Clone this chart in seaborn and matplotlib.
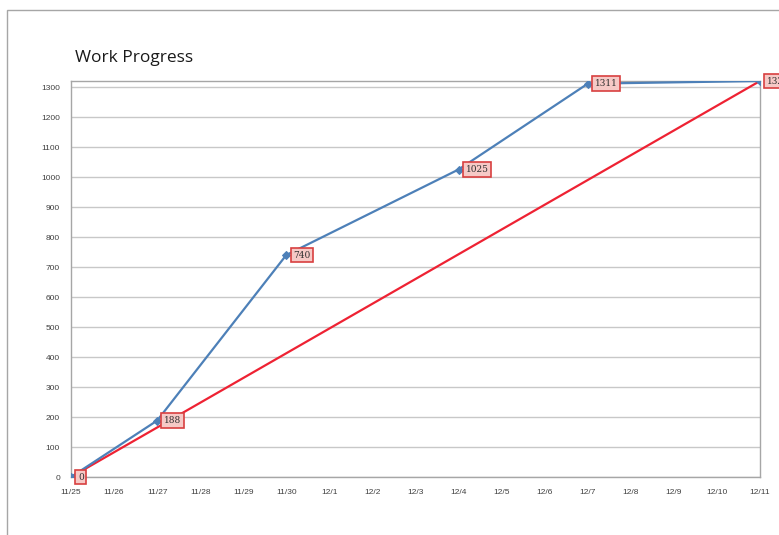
import matplotlib
matplotlib.use("Agg")
import matplotlib.pyplot as plt
import matplotlib.dates as mdates
from matplotlib.patches import Rectangle
import seaborn as sns
import pandas as pd

# ---- data ----
actual_dates = ["2010-11-25", "2010-11-27", "2010-11-30", "2010-12-04", "2010-12-07", "2010-12-11"]
actual_values = [0, 188, 740, 1025, 1311, 1320]
plan_dates = ["2010-11-25", "2010-12-11"]
plan_values = [0, 1320]
plan_labels = ["0", "1320"]
actual_labels = ["188", "740", "1025", "1311"]
actual_label_idx = [1, 2, 3, 4]
y_ticks = list(range(0, 1400, 100))
title = "Work Progress"

actual = pd.DataFrame({"date": pd.to_datetime(actual_dates), "value": actual_values})
plan = pd.DataFrame({"date": pd.to_datetime(plan_dates), "value": plan_values})

sns.set_theme(style="white")
plt.rcParams["font.family"] = ["Liberation Sans", "DejaVu Sans"]

fig = plt.figure(figsize=(7.79, 5.35), dpi=100)
fig.patch.set_facecolor("white")
# outer chart border
fig.patches.append(Rectangle((7 / 779, -0.05), 1.2, 1 - 10 / 535 + 0.05, transform=fig.transFigure,
                             fill=False, edgecolor="#a6a6a6", linewidth=1.0))

ax = fig.add_axes([71 / 779, 58 / 535, 689 / 779, 396 / 535])

blue = "#4d80b8"
red = "#ee2233"

sns.lineplot(data=plan, x="date", y="value", ax=ax, color=red, linewidth=1.6, zorder=3)
sns.lineplot(data=actual, x="date", y="value", ax=ax, color=blue, linewidth=1.6,
             marker="D", markersize=4, markeredgecolor=blue, zorder=4)

ax.set_ylim(0, 1320)
ax.set_xlim(pd.Timestamp(plan_dates[0]), pd.Timestamp(plan_dates[-1]))
ax.set_yticks(y_ticks)
ax.xaxis.set_major_locator(mdates.DayLocator())
ax.xaxis.set_major_formatter(mdates.DateFormatter("%-m/%-d"))
ax.grid(axis="y", color="#c8c8c8", linewidth=1.0)
ax.grid(axis="x", visible=False)
for s in ax.spines.values():
    s.set_color("#a6a6a6")
    s.set_linewidth(1.0)
ax.tick_params(axis="both", labelsize=6, colors="#404040", length=0, direction="out")
ax.tick_params(axis="x", pad=9)
ax.tick_params(axis="y", pad=8)
ax.set_xlabel("")
ax.set_ylabel("")

box = dict(boxstyle="square,pad=0.3", facecolor="#f6c9c6", edgecolor="#d84040", linewidth=1.2)

def label(d, v, t):
    ax.annotate(t, xy=(pd.Timestamp(d), v), xytext=(5, 0), textcoords="offset points",
                ha="left", va="center", fontsize=6.5, family="DejaVu Serif", color="#303030",
                bbox=box, zorder=6, annotation_clip=False)

label(plan_dates[0], plan_values[0], plan_labels[0])
for i, t in zip(actual_label_idx, actual_labels):
    label(actual_dates[i], actual_values[i], t)
label(plan_dates[1], plan_values[1], plan_labels[1])

fig.text(75 / 779, 1 - 58 / 535, title, fontsize=12.5, color="#1a1a1a", ha="left", va="center",
         family=["Open Sans", "DejaVu Sans"])

fig.savefig("out.png", dpi=100)
